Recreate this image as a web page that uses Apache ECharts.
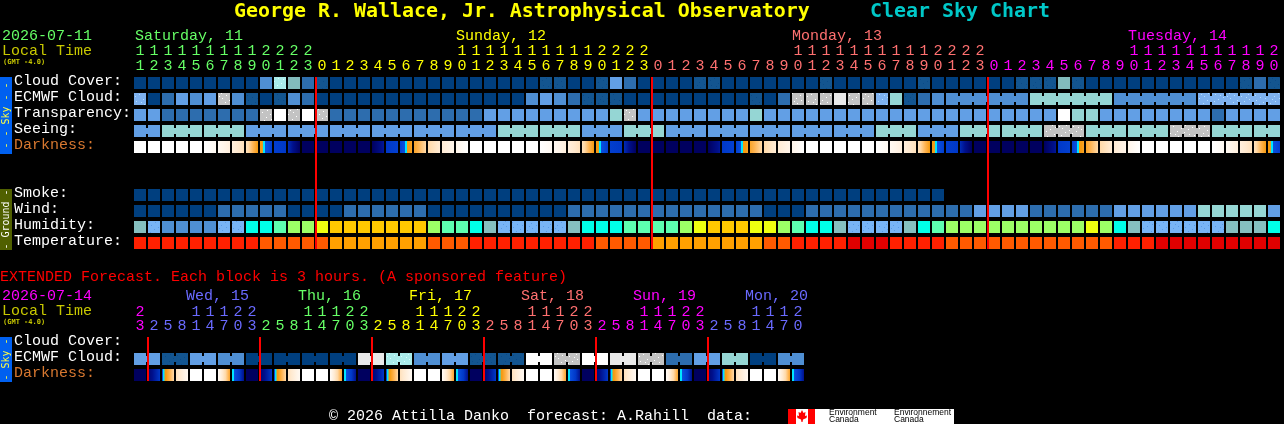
<!DOCTYPE html>
<html><head><meta charset="utf-8">
<style>html,body{margin:0;padding:0;background:#000;overflow:hidden}#c{width:1284px;height:424px}</style>
<script src="https://cdn.jsdelivr.net/npm/echarts@6/dist/echarts.min.js"></script>
</head><body><div id="c"></div>
<script>
// ---------- data ----------
const skyRows = ['Cloud Cover:','ECMWF Cloud:','Transparency:','Seeing:','Darkness:','','','Smoke:','Wind:','Humidity:','Temperature:'];
const extRows = ['Cloud Cover:','ECMWF Cloud:','Darkness:'];

const hourTens  = ['1','1','1','1','1','1','1','1','1','2','2','2','2',
 '','','','','','','','','','','1','1','1','1','1','1','1','1','1','1','2','2','2','2',
 '','','','','','','','','','','1','1','1','1','1','1','1','1','1','1','2','2','2','2',
 '','','','','','','','','','','1','1','1','1','1','1','1','1','1','1','2'];
const hourUnits = ['1','2','3','4','5','6','7','8','9','0','1','2','3',
 '0','1','2','3','4','5','6','7','8','9','0','1','2','3','4','5','6','7','8','9','0','1','2','3',
 '0','1','2','3','4','5','6','7','8','9','0','1','2','3','4','5','6','7','8','9','0','1','2','3',
 '0','1','2','3','4','5','6','7','8','9','0','1','2','3','4','5','6','7','8','9','0'];
const extTens  = ['2','','','','1','1','1','2','2','','','','1','1','1','2','2','','','','1','1','1','2','2','','','','1','1','1','2','2','','','','1','1','1','2','2','','','','1','1','1','2'];
const extUnits = ['3','2','5','8','1','4','7','0','3','2','5','8','1','4','7','0','3','2','5','8','1','4','7','0','3','2','5','8','1','4','7','0','3','2','5','8','1','4','7','0','3','2','5','8','1','4','7','0'];

// day starts (column index) for label colours
const mainDayStarts = [0,13,37,61];
const mainDayColors = ['#66ff66','#ffff00','#ff7070','#ff00ff'];
const extDayStarts  = [0,1,9,17,25,33,41];
const extDayColors  = ['#ff00ff','#6a6aff','#66ff66','#ffff00','#ff7070','#ff00ff','#6a6aff'];

// palette levels
const cloudCover = [0,0,0,0,0,0,0,0,0,3,8,7,2,1,0,0,0,0,0,0,0,0,0,0,0,0,0,0,0,1,1,0,0,1,4,2,0,0,0,0,1,1,0,0,0,0,0,0,0,1,0,0,0,0,0,0,1,0,0,0,0,0,0,1,1,1,7,1,0,0,0,0,0,0,0,0,0,0,0,1,2,1];
const ecmwfCloud = [5,0,2,4,3,4,9,3,1,0,1,3,2,0,0,0,0,0,0,0,0,0,0,0,0,0,0,0,3,4,3,2,1,1,1,0,0,0,0,0,0,0,0,0,1,0,2,9,9,9,10,9,9,5,6,1,2,3,3,3,3,3,3,3,6,6,6,6,6,6,3,3,3,3,3,3,5,5,5,5,5,5];
const ecmwfStarts = [0,1,2,3,4,5,6,7,8,9,10,11,12,13,14,15,16,17,18,19,20,21,22,23,24,25,26,27,28,29,30,31,32,33,34,35,36,37,38,39,40,41,42,43,44,45,46,47,48,49,50,51,52,53,54,55,56,57,58,64,70,76];
const transparency = [4,4,2,2,2,2,2,2,2,9,11,9,11,9,2,2,2,2,2,2,2,2,2,2,2,4,4,4,4,4,4,4,4,4,6,9,4,4,4,4,4,4,4,4,6,4,4,4,4,4,4,4,4,4,4,4,4,4,4,4,4,4,4,4,4,4,11,6,6,4,4,4,4,4,4,4,4,2,4,4,4,4];
const seeing = [4,4,6,6,6,6,6,6,4,4,4,4,4,4,4,4,4,4,4,4,4,4,4,4,4,4,6,6,6,6,6,6,4,4,4,6,6,6,4,4,4,4,4,4,4,4,4,4,4,4,4,4,4,6,6,6,4,4,4,6,6,6,6,6,6,9,9,9,6,6,6,6,6,6,9,9,9,6,6,6,6,6];
const seeingStarts = [0,2,5,8,11,14,17,20,23,26,29,32,35,38,41,44,47,50,53,56,59,62,65,68,71,74,77,80];
const darkStart = [0,0,0,0,0,0,.6,1.5,2.5,5,6.7,7.3,9,
 9,9,9,9,9,7,6.6,4.6,3,1.8,1,0,0,0,0,0,0,.6,1.5,2.5,5,6.7,7.3,9,
 9,9,9,9,9,7,6.6,4.6,3,1.8,1,0,0,0,0,0,0,.6,1.5,2.5,5,6.7,7.3,9,
 9,9,9,9,9,7,6.6,4.6,3,1.8,1,0,0,0,0,0,0,.6,1.5,2.5,5];
const darkEnd = [0,0,0,0,0,.6,1.5,2.5,5,6.7,7,9,9,
 9,9,9,9,7.8,6.6,4.6,3,1.8,1,0,0,0,0,0,0,.6,1.5,2.5,5,6.7,7,9,9,
 9,9,9,9,7.8,6.6,4.6,3,1.8,1,0,0,0,0,0,0,.6,1.5,2.5,5,6.7,7,9,9,
 9,9,9,9,7.8,6.6,4.6,3,1.8,1,0,0,0,0,0,0,.6,1.5,2.5,5,6.7];
const smoke = [0,0,0,0,0,0,0,0,0,0,0,0,0,0,0,0,0,0,0,0,0,0,0,0,0,0,0,0,0,0,0,0,0,0,0,0,0,0,0,0,0,0,0,0,0,0,0,0,0,0,0,0,0,0,0,0,0,0];
const wind = [0,0,0,0,0,0,2,2,2,2,2,0,0,0,0,2,2,2,2,2,2,0,0,0,0,0,0,0,0,0,0,2,2,2,2,2,2,2,2,2,2,2,2,2,2,0,0,0,2,2,2,2,2,2,2,2,2,2,2,2,4,4,4,4,2,2,2,2,2,2,4,4,4,4,4,4,6,6,6,6,6,4];
const humidity = [0,1,2,2,2,2,1,1,3,3,4,5,5,6,7,7,7,7,7,7,7,5,4,4,3,0,1,1,1,1,1,0,3,3,3,4,4,4,4,5,6,7,7,7,6,6,5,4,3,3,0,1,1,1,1,0,3,4,5,5,5,5,5,5,5,5,5,5,6,5,3,0,1,1,1,1,1,1,0,0,0,3];
const temperature = [1,1,1,1,1,1,1,1,1,2,2,2,2,2,3,3,3,3,3,3,3,2,2,2,1,1,1,1,1,1,1,1,1,2,2,2,2,3,3,3,3,3,3,3,3,2,2,1,1,1,1,0,0,0,1,1,1,1,2,2,2,2,2,2,2,2,2,2,2,2,1,1,1,0,0,0,0,0,0,0,0,0];
const midnights = [13,37,61];

const extEcmwf = [4,4,1,1,4,4,3,3,0,0,0,0,0,0,0,0,10,10,8,8,3,3,4,4,1,1,1,1,11,11,9,9,11,11,10,10,9,9,2,2,4,4,6,6,0,0,3,3];
const extStarts = [0,2,4,6,8,10,12,14,16,18,20,22,24,26,28,30,32,34,36,38,40,42,44,46];
const extDarkStart = [9,8.6,6,2.5,0,0,.4,5.3, 9,8.6,6,2.5,0,0,.4,5.3, 9,8.6,6,2.5,0,0,.4,5.3, 9,8.6,6,2.5,0,0,.4,5.3, 9,8.6,6,2.5,0,0,.4,5.3, 9,8.6,6,2.5,0,0,.4,5.3];
const extDarkEnd   = [9,7,3,.6,0,0,4.5,8, 9,7,3,.6,0,0,4.5,8, 9,7,3,.6,0,0,4.5,8, 9,7,3,.6,0,0,4.5,8, 9,7,3,.6,0,0,4.5,8, 9,7,3,.6,0,0,4.5,8];
const extMidnights = [1,9,17,25,33,41];

// ---------- styles ----------
const skyPalette = ['#003f7f','#135590','#2d6dae','#4f8fd3','#629fe5','#7db1ef','#95d6d4','#82bcbd','#aaeceb','#c3c3c3','#e9e9e9','#ffffff'];
const skySpeck   = {1:'#0b4a88',5:'#b0dcff',8:'#d8ffff',9:'#ffffff'};
const humPalette = ['#85bfbf','#78b4f5','#4f8fd3','#00ffe8','#5dffb0','#9cff66','#eeff10','#ffc800'];
const humSpeck   = {1:'#5a9ae6'};
const tempPalette= ['#e00000','#ff2000','#ff5a00','#ffa000'];
const darkRamp = [[0,'#ffffff'],[1,'#fff5ea'],[2,'#ffe9cf'],[3,'#ffd9a8'],[4,'#ffb452'],[5,'#f59a10'],[5.35,'#f59a10'],[5.4,'#00e5ff'],[5.7,'#00e5ff'],[5.75,'#0a50e0'],[7,'#0038c8'],[8,'#00108c'],[9,'#00005f']];
const speckX = [2,9,5,1,10,7], speckY = [3,1,8,10,6,4];
const MONO = '"Liberation Mono", monospace';
const MONOB = '"DejaVu Sans Mono", monospace';

function rampColor(v){
  for(let i=0;i<darkRamp.length-1;i++){
    const a=darkRamp[i],b=darkRamp[i+1];
    if(v<=b[0]){ const t=(v-a[0])/(b[0]-a[0]);
      const pa=parseInt(a[1].slice(1),16),pb=parseInt(b[1].slice(1),16);
      const ch=s=>Math.round(((pa>>s)&255)*(1-t)+((pb>>s)&255)*t);
      return 'rgb('+ch(16)+','+ch(8)+','+ch(0)+')'; }
  }
  return darkRamp[darkRamp.length-1][1];
}
function darkFill(a,b){
  if(a===b) return rampColor(a);
  const stops=[{offset:0,color:rampColor(a)}];
  darkRamp.forEach(k=>{const o=(k[0]-a)/(b-a); if(o>0&&o<1) stops.push({offset:o,color:k[1]});});
  stops.sort((p,q)=>p.offset-q.offset);
  stops.push({offset:1,color:rampColor(b)});
  return new echarts.graphic.LinearGradient(0,0,1,0,stops);
}
function addRow(out,row,vals,kind,starts){
  vals.forEach((v,c)=>{
    const joined = starts && c+1<vals.length && starts.indexOf(c+1)<0 ? 1:0;
    out.push([c,row,kind,v,joined,0]);
  });
}
const mainCells=[],extCells=[];
addRow(mainCells,0,cloudCover,0);
addRow(mainCells,1,ecmwfCloud,0,ecmwfStarts);
addRow(mainCells,2,transparency,0);
addRow(mainCells,3,seeing,0,seeingStarts);
darkStart.forEach((v,c)=>mainCells.push([c,4,3,v,0,darkEnd[c]]));
addRow(mainCells,7,smoke,0);
addRow(mainCells,8,wind,0);
addRow(mainCells,9,humidity,1);
addRow(mainCells,10,temperature,2);
addRow(extCells,1,extEcmwf,0,extStarts);
extDarkStart.forEach((v,c)=>extCells.push([c,2,3,v,0,extDarkEnd[c]]));

function renderCell(params,api){
  const col=api.value(0),row=api.value(1),kind=api.value(2),v=api.value(3),joined=api.value(4),end=api.value(5);
  const p=api.coord([col,row]),s=api.size([1,1]);
  const w=s[0]-2,h=s[1]-4,x=p[0]-w/2,y=p[1]-h/2;
  let fill,speck;
  if(kind===0){fill=skyPalette[v];speck=skySpeck[v];}
  else if(kind===1){fill=humPalette[v];speck=humSpeck[v];}
  else if(kind===2){fill=tempPalette[v];}
  else {fill=darkFill(v,end);}
  const ch=[{type:'rect',shape:{x,y,width:w,height:h},style:{fill}}];
  if(joined) ch.push({type:'rect',shape:{x:x+w,y:y+3,width:2,height:h-6},style:{fill}});
  if(speck){
    for(let i=0;i<6;i++){
      const dx=(speckX[i]+col*5)%12,dy=(speckY[i]+row*5+col)%12;
      ch.push({type:'rect',shape:{x:x+dx,y:y+dy,width:1,height:1},style:{fill:speck}});
    }
  }
  return {type:'group',children:ch};
}
function renderMidnight(lastRow){
  return function(params,api){
    const top=api.coord([api.value(0),0]),bot=api.coord([api.value(0),lastRow]);
    return {type:'rect',z2:100,shape:{x:top[0]-7,y:top[1]-6,width:2,height:bot[1]-top[1]+12},style:{fill:'#ff0000',stroke:null}};
  };
}
function dayColor(starts,colors){
  return function(v,i){let k=0;starts.forEach((s,j)=>{if(i>=s)k=j;});return colors[k];};
}
function hourAxis(gridIndex,data,offset,starts,colors,margin){
  return {type:'category',gridIndex,position:'top',data,offset,
    axisLine:{show:false},axisTick:{show:false},splitLine:{show:false},
    axisLabel:{show:true,interval:0,margin,hideOverlap:false,fontFamily:MONO,fontSize:15,lineHeight:15,color:dayColor(starts,colors)}};
}
function rowAxis(gridIndex,data){
  return {type:'category',gridIndex,inverse:true,data,
    axisLine:{show:false},axisTick:{show:false},splitLine:{show:false},
    axisLabel:{show:true,interval:0,margin:119,align:'left',verticalAlign:'bottom',lineHeight:4,hideOverlap:false,fontFamily:MONO,fontSize:15,
      color:(v)=>v==='Darkness:'?'#d87830':'#ffffff'}};
}
function txt(text,x,y,font,fill,extra){
  return Object.assign({type:'text',x,y,silent:true,style:{text,font,fill,align:'left',verticalAlign:'middle'}},extra||{});
}
const F15='15px '+MONO, FT='bold 19.93px '+MONOB, FS='bold 7px '+MONOB, F10='10px '+MONOB;
function strip(y,h,bg,text,color){
  return [{type:'rect',shape:{x:0,y,width:12,height:h},style:{fill:bg}},
    {type:'text',x:6,y:y+h/2,rotation:Math.PI/2,style:{text,font:F10,fill:color,align:'center',verticalAlign:'middle'}}];
}
const graphics=[
  txt('George R. Wallace, Jr. Astrophysical Observatory',234,12,FT,'#ffff00'),
  txt('Clear Sky Chart',870,12,FT,'#00c8c8'),
  txt('2026-07-11',2,36,F15,'#66ff66'),
  txt('Local Time',2,51,F15,'#c8c800'),
  txt('(GMT -4.0)',3,62,FS,'#c8c800'),
  txt('Saturday, 11',135,36,F15,'#66ff66'),
  txt('Sunday, 12',456,36,F15,'#ffff00'),
  txt('Monday, 13',792,36,F15,'#ff7070'),
  txt('Tuesday, 14',1128,36,F15,'#ff00ff'),
  txt('EXTENDED Forecast. Each block is 3 hours. (A sponsored feature)',0,277,F15,'#ff0000'),
  txt('2026-07-14',2,296,F15,'#ff00ff'),
  txt('Local Time',2,311,F15,'#c8c800'),
  txt('(GMT -4.0)',3,322,FS,'#c8c800'),
  txt('Wed, 15',186,296,F15,'#6a6aff'),
  txt('Thu, 16',298,296,F15,'#66ff66'),
  txt('Fri, 17',409,296,F15,'#ffff00'),
  txt('Sat, 18',521,296,F15,'#ff7070'),
  txt('Sun, 19',633,296,F15,'#ff00ff'),
  txt('Mon, 20',745,296,F15,'#6a6aff'),
  txt('\u00a9 2026 Attilla Danko  forecast: A.Rahill  data:',329,416,F15,'#ffffff'),
  ...strip(77,77,'#0060f0','- - Sky - -','#ffff40'),
  ...strip(189,61,'#506000','- Ground -','#ffffff'),
  ...strip(337,45,'#0060f0','- Sky -','#ffff40'),
  {type:'rect',shape:{x:788,y:409,width:166,height:15},style:{fill:'#ffffff'}},
  {type:'rect',shape:{x:788,y:409,width:8,height:15},style:{fill:'#ff0000'}},
  {type:'rect',shape:{x:808,y:409,width:7,height:15},style:{fill:'#ff0000'}},
  {type:'polygon',shape:{points:[[802,410],[803.5,413],[805.5,412],[805,416],[807,415.5],[806.5,418],[803,419.5],[802.5,422],[801.5,422],[801,419.5],[797.5,418],[797,415.5],[799,416],[798.5,412],[800.5,413]]},style:{fill:'#ff0000'}},
  txt('Environment',829,413,'8.5px "Liberation Sans", sans-serif','#000000'),
  txt('Canada',829,420,'8.5px "Liberation Sans", sans-serif','#000000'),
  txt('Environnement',894,413,'8.5px "Liberation Sans", sans-serif','#000000'),
  txt('Canada',894,420,'8.5px "Liberation Sans", sans-serif','#000000')
];

const chart=echarts.init(document.getElementById('c'),null,{renderer:'canvas',width:1284,height:424});
chart.setOption({
  animation:false,
  backgroundColor:'#000000',
  textStyle:{fontFamily:MONO},
  grid:[
    {left:133,top:75,width:1148,height:176,containLabel:false,outerBoundsMode:'none'},
    {left:133,top:335,width:672,height:48,containLabel:false,outerBoundsMode:'none'}
  ],
  xAxis:[
    hourAxis(0,hourUnits,0,mainDayStarts,mainDayColors,1),
    hourAxis(0,hourTens,15,mainDayStarts,mainDayColors,1),
    hourAxis(1,extUnits,0,extDayStarts,extDayColors,1),
    hourAxis(1,extTens,14,extDayStarts,extDayColors,1)
  ],
  yAxis:[rowAxis(0,skyRows),rowAxis(1,extRows)],
  graphic:{elements:graphics},
  series:[
    {type:'custom',xAxisIndex:0,yAxisIndex:0,data:mainCells,renderItem:renderCell,clip:false,silent:true,encode:{x:0,y:1}},
    {type:'custom',xAxisIndex:2,yAxisIndex:1,data:extCells,renderItem:renderCell,clip:false,silent:true,encode:{x:0,y:1}},
    {type:'custom',xAxisIndex:0,yAxisIndex:0,data:midnights.map(c=>[c,0]),renderItem:renderMidnight(10),clip:false,silent:true,z:20,encode:{x:0,y:1}},
    {type:'custom',xAxisIndex:2,yAxisIndex:1,data:extMidnights.map(c=>[c,0]),renderItem:renderMidnight(2),clip:false,silent:true,z:20,encode:{x:0,y:1}}
  ]
});
</script></body></html>
